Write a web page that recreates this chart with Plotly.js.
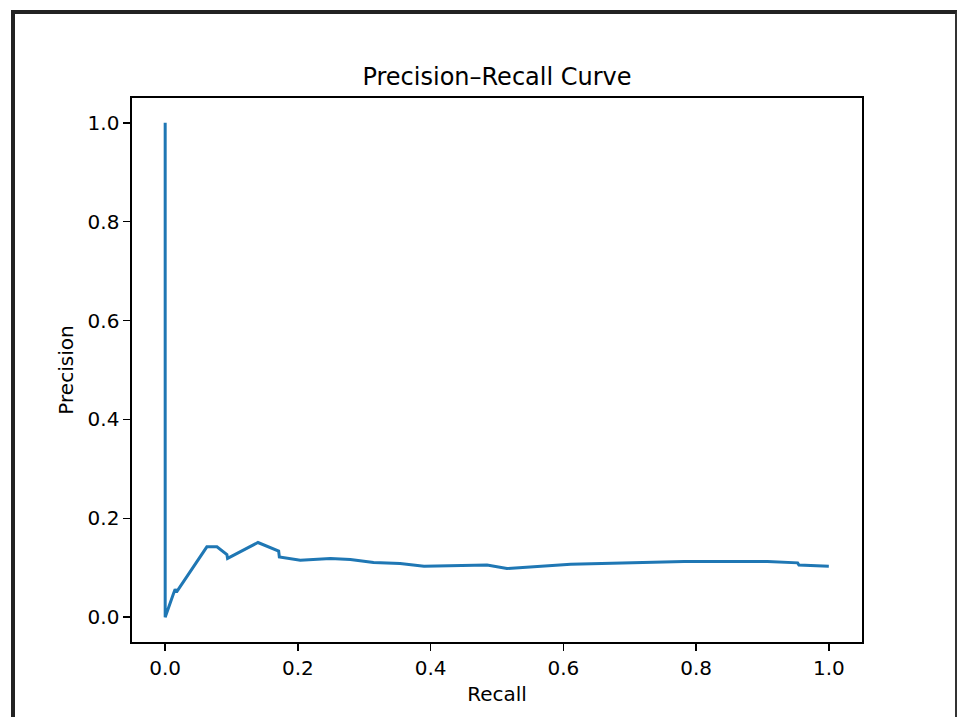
<!DOCTYPE html>
<html>
<head>
<meta charset="utf-8">
<script src="https://cdn.plot.ly/plotly-3.0.1.min.js"></script>
<style>
  html, body { margin: 0; padding: 0; background: #ffffff; }
  #wrap { position: relative; width: 957px; height: 717px; overflow: hidden; background: #fff; }
  #frame { position: absolute; left: 11px; top: 10px; width: 946px; height: 720px;
           border-top: 4px solid #222; border-left: 4px solid #222; border-right: 2px solid #333; box-sizing: border-box; pointer-events: none; }
  #chart { position: absolute; left: 0; top: 0; width: 957px; height: 717px; }
</style>
</head>
<body>
<div id="wrap">
  <div id="chart"></div>
  <div id="frame"></div>
</div>
<script>
const recall = [0, 0, 0.0126, 0.015, 0.017, 0.0628, 0.078, 0.093, 0.094, 0.1398, 0.171, 0.172, 0.2036, 0.249, 0.279, 0.314, 0.354, 0.39, 0.485, 0.515, 0.611, 0.671, 0.782, 0.9075, 0.953, 0.955, 1.0];
const precision = [1.0, 0.0, 0.048, 0.0567, 0.051, 0.1424, 0.1424, 0.127, 0.119, 0.1512, 0.134, 0.122, 0.1154, 0.119, 0.117, 0.111, 0.1087, 0.1032, 0.1057, 0.0985, 0.107, 0.1087, 0.113, 0.113, 0.110, 0.1055, 0.103];
const tickVals = [0, 0.2, 0.4, 0.6, 0.8, 1.0];
const tickText = ["0.0", "0.2", "0.4", "0.6", "0.8", "1.0"];
const titleText = "Precision–Recall Curve";
const xTitle = "Recall";
const yTitle = "Precision";

const font = "DejaVu Sans, sans-serif";
const trace = {
  x: recall, y: precision, type: "scatter", mode: "lines",
  line: { color: "#1f77b4", width: 3 }, hoverinfo: "skip"
};
const axisCommon = {
  tickvals: tickVals, ticktext: tickText,
  ticks: "outside", ticklen: 7, tickwidth: 1.6, tickcolor: "#000",
  showline: true, linecolor: "#000", linewidth: 1.6, mirror: true,
  showgrid: false, zeroline: false,
  tickfont: { family: font, size: 20, color: "#000" },
  automargin: false
};
const layout = {
  width: 957, height: 717,
  margin: { l: 132, r: 95, t: 98, b: 75, pad: 0 },
  paper_bgcolor: "rgba(0,0,0,0)", plot_bgcolor: "#fff",
  showlegend: false,
  title: { text: titleText, font: { family: font, size: 24, color: "#000" },
           x: 0.5, xanchor: "center", xref: "paper", y: 1 - 77/717, yanchor: "middle", yref: "container" },
  xaxis: Object.assign({}, axisCommon, {
    range: [-0.05, 1.05],
    title: { text: xTitle, font: { family: font, size: 20, color: "#000" }, standoff: 8 }
  }),
  yaxis: Object.assign({}, axisCommon, {
    range: [-0.05, 1.05],
    title: { text: yTitle, font: { family: font, size: 20, color: "#000" }, standoff: 8 }
  })
};
Plotly.newPlot("chart", [trace], layout, { staticPlot: true, displayModeBar: false });
</script>
</body>
</html>
